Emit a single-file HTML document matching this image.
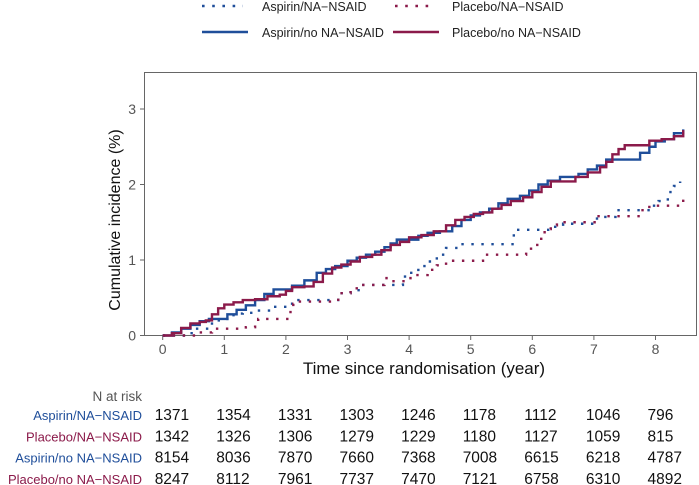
<!DOCTYPE html>
<html><head><meta charset="utf-8"><style>
body{margin:0;background:#fff;}
svg{display:block;font-family:"Liberation Sans",Arial,sans-serif;}
</style></head><body>
<svg id="chart" width="699" height="485" viewBox="0 0 699 485" xmlns="http://www.w3.org/2000/svg">
<g id="legend">
  <g>
    <line x1="202" y1="6" x2="243" y2="6" stroke="#1f4e9a" stroke-width="2.6" stroke-dasharray="2.6 7.6"/>
    <text x="262" y="11" font-size="12.5" fill="#222">Aspirin/NA−NSAID</text>
  </g>
  <g>
    <line x1="395" y1="6" x2="434" y2="6" stroke="#8b1a4a" stroke-width="2.6" stroke-dasharray="2.6 7.6"/>
    <text x="452" y="11" font-size="12.5" fill="#222">Placebo/NA−NSAID</text>
  </g>
  <g>
    <line x1="202" y1="32" x2="248" y2="32" stroke="#1f4e9a" stroke-width="2.6"/>
    <text x="262" y="37" font-size="12.5" fill="#222">Aspirin/no NA−NSAID</text>
  </g>
  <g>
    <line x1="393" y1="32" x2="439" y2="32" stroke="#8b1a4a" stroke-width="2.6"/>
    <text x="452" y="37" font-size="12.5" fill="#222">Placebo/no NA−NSAID</text>
  </g>
</g>
<rect x="144.5" y="72.5" width="552" height="263" fill="none" stroke="#666" stroke-width="1"/>
<g id="axes"></g>
<g id="series"></g>
<text transform="translate(120,220) rotate(-90)" text-anchor="middle" font-size="16" fill="#111">Cumulative incidence (%)</text>
<text x="424" y="374" text-anchor="middle" font-size="17" fill="#111">Time since randomisation (year)</text>
<text x="142" y="401" text-anchor="end" font-size="13.5" fill="#555">N at risk</text>
<g id="risk"></g>
</svg>
<script>
const xTicks=[0,1,2,3,4,5,6,7,8];
const yTicks=[0,1,2,3];
const aspNA_t=[0,0.45,0.5,0.8,1.05,1.15,1.3,1.5,1.8,2.1,2.85,3.05,3.2,3.9,4.0,4.15,4.3,4.45,4.6,4.8,5.7,6.3,6.5,7.05,7.35,7.95,8.05,8.2,8.3,8.4];
const aspNA_v=[0,0.03,0.09,0.2,0.25,0.29,0.3,0.33,0.38,0.47,0.56,0.6,0.67,0.78,0.83,0.92,0.98,1.07,1.16,1.21,1.40,1.44,1.48,1.57,1.66,1.72,1.78,1.9,1.98,2.04];
const plaNA_t=[0,0.6,0.8,1.35,1.5,1.55,2.05,2.12,2.2,2.85,3.05,3.15,3.6,3.7,3.95,4.05,4.3,4.45,4.6,5.2,5.9,6.0,6.1,6.2,6.3,6.4,7.05,7.75,7.9,8.45];
const plaNA_v=[0,0.04,0.09,0.11,0.18,0.22,0.31,0.42,0.45,0.56,0.6,0.67,0.76,0.72,0.76,0.8,0.87,0.93,0.99,1.07,1.15,1.2,1.28,1.41,1.46,1.5,1.58,1.66,1.72,1.81];
const aspNo_t=[0,0.15,0.3,0.45,0.6,0.75,1.05,1.2,1.35,1.5,1.65,1.8,2.1,2.3,2.5,2.65,2.8,3.0,3.15,3.3,3.45,3.6,3.7,3.8,4.15,4.3,4.5,4.7,4.85,5.0,5.15,5.3,5.45,5.6,5.8,5.95,6.1,6.25,6.45,6.75,6.9,7.05,7.2,7.75,7.9,8.0,8.15,8.3,8.45];
const aspNo_v=[0,0.04,0.09,0.14,0.19,0.22,0.28,0.34,0.40,0.47,0.55,0.61,0.66,0.73,0.83,0.88,0.92,0.99,1.03,1.07,1.11,1.17,1.22,1.27,1.32,1.36,1.38,1.45,1.53,1.59,1.63,1.68,1.75,1.81,1.85,1.92,2.0,2.05,2.1,2.14,2.2,2.25,2.33,2.42,2.5,2.57,2.6,2.68,2.73];
const plaNo_t=[0,0.15,0.3,0.45,0.6,0.7,0.8,0.9,1.0,1.15,1.3,1.5,1.7,1.9,2.0,2.1,2.3,2.45,2.6,2.75,2.9,3.05,3.2,3.4,3.55,3.7,3.85,4.0,4.2,4.4,4.6,4.75,4.9,5.05,5.2,5.35,5.5,5.65,5.85,6.0,6.15,6.3,6.7,6.9,7.1,7.2,7.3,7.4,7.5,7.9,8.1,8.3,8.45];
const plaNo_v=[0,0.03,0.1,0.16,0.18,0.2,0.28,0.36,0.41,0.44,0.47,0.48,0.52,0.54,0.59,0.64,0.65,0.71,0.82,0.9,0.94,0.98,1.04,1.07,1.13,1.2,1.24,1.3,1.33,1.38,1.46,1.53,1.57,1.61,1.63,1.68,1.73,1.78,1.83,1.9,1.97,2.04,2.1,2.16,2.23,2.3,2.4,2.47,2.52,2.58,2.6,2.64,2.72];
const riskLabels=["Aspirin/NA−NSAID","Placebo/NA−NSAID","Aspirin/no NA−NSAID","Placebo/no NA−NSAID"];
const riskAspNA=[1371,1354,1331,1303,1246,1178,1112,1046,796];
const riskPlaNA=[1342,1326,1306,1279,1229,1180,1127,1059,815];
const riskAspNo=[8154,8036,7870,7660,7368,7008,6615,6218,4787];
const riskPlaNo=[8247,8112,7961,7737,7470,7121,6758,6310,4892];

const NS="http://www.w3.org/2000/svg";
const X=t=>162.7+t*61.6;
const Y=v=>335.5-v*75.5;
function mk(tag,attrs,parent){const e=document.createElementNS(NS,tag);for(const k in attrs)e.setAttribute(k,attrs[k]);parent.appendChild(e);return e;}
const axes=document.getElementById('axes');
xTicks.forEach(t=>{
  const l=mk('line',{x1:X(t),x2:X(t),y1:336,y2:340,stroke:'#666'},axes);
  
  
  const tx=mk('text',{x:X(t),y:354,'text-anchor':'middle','font-size':14,fill:'#555'},axes);
  tx.textContent=t;
  
  
});
yTicks.forEach(v=>{
  const l=mk('line',{x1:140,x2:144,y1:Y(v),y2:Y(v),stroke:'#666'},axes);
  
  
  const tx=mk('text',{x:136,y:Y(v)+5,'text-anchor':'end','font-size':14,fill:'#555'},axes);
  tx.textContent=v;
  
  
});
function step(ts,vs){let d='M'+X(ts[0])+','+Y(vs[0]);for(let i=1;i<ts.length;i++){d+=' H'+X(ts[i])+' V'+Y(vs[i]);}return d;}
const ser=document.getElementById('series');
const defs=[[aspNA_t,aspNA_v,'#1f4e9a',true,'series-aspirin-na-nsaid'],[plaNA_t,plaNA_v,'#8b1a4a',true,'series-placebo-na-nsaid'],[aspNo_t,aspNo_v,'#1f4e9a',false,'series-aspirin-no-na-nsaid'],[plaNo_t,plaNo_v,'#8b1a4a',false,'series-placebo-no-na-nsaid']];
defs.forEach(s=>{
  const a={d:step(s[0],s[1]),fill:'none',stroke:s[2],'stroke-width':2.4};
  if(s[3])a['stroke-dasharray']='2.4 7.6';
  const p=mk('path',a,ser);
  
  
});
const risk=document.getElementById('risk');
const riskRows=[riskAspNA,riskPlaNA,riskAspNo,riskPlaNo];
const rowCol=['#1f4e9a','#8b1a4a','#1f4e9a','#8b1a4a'];
riskRows.forEach((row,i)=>{
  const y=420+i*21.3;
  const lb=mk('text',{x:142,y:y,'text-anchor':'end','font-size':13,fill:rowCol[i]},risk);
  lb.textContent=riskLabels[i];
  
  
  row.forEach((n,j)=>{
    const tx=mk('text',{x:X(xTicks[j])-8,y:y,'font-size':15.5,fill:'#111'},risk);
    tx.textContent=n;
    
    
  });
});
</script>
</body></html>
